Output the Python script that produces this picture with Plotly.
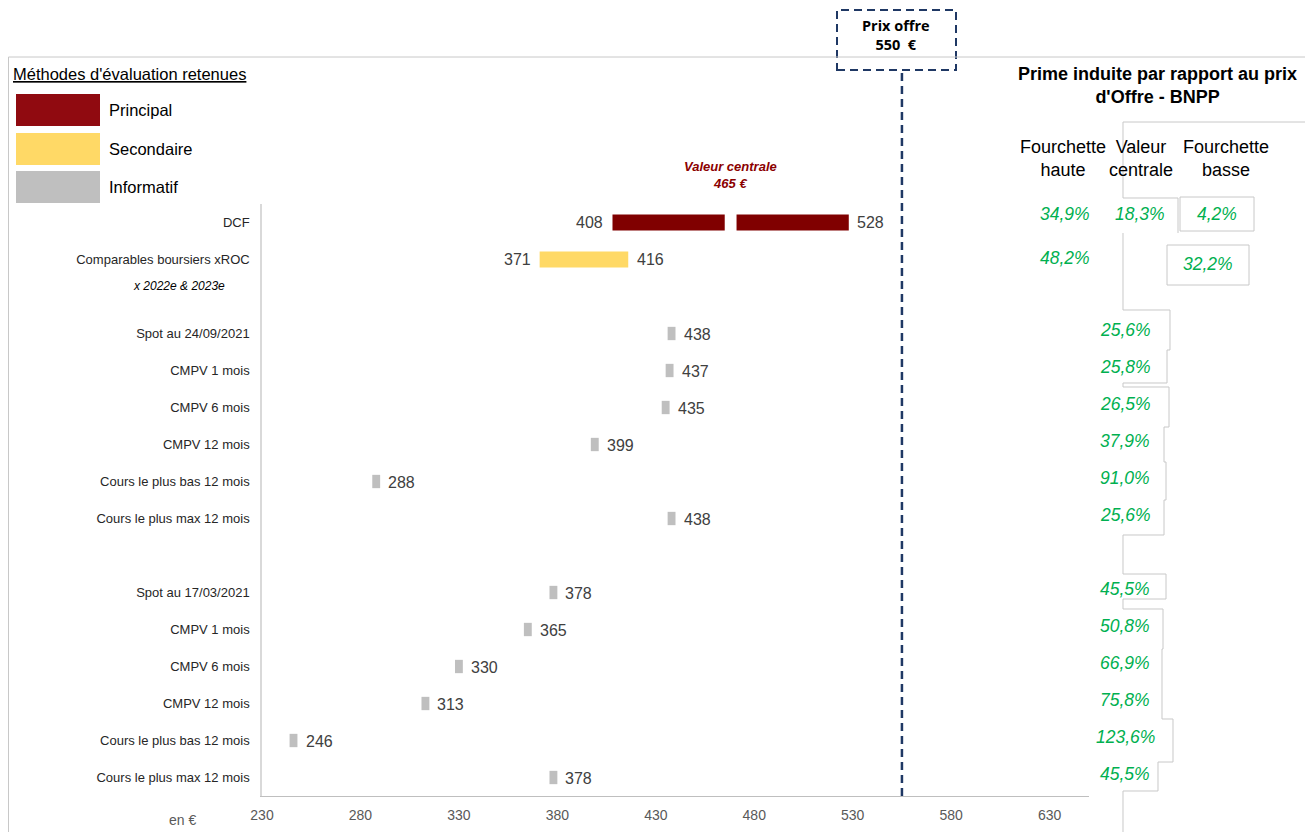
import plotly.graph_objects as go

# valuation methods (values in EUR)
dcf_low, dcf_central, dcf_high = 408, 465, 528
comp_low, comp_high = 371, 416
offer_price = 550
offer_line_at = 555  # where the dashed line sits on the axis in the picture

recent_labels = ["Spot au 24/09/2021", "CMPV 1 mois", "CMPV 6 mois", "CMPV 12 mois",
                 "Cours le plus bas 12 mois", "Cours le plus max 12 mois"]
recent_values = [438, 437, 435, 399, 288, 438]
old_labels = ["Spot au 17/03/2021", "CMPV 1 mois", "CMPV 6 mois", "CMPV 12 mois",
              "Cours le plus bas 12 mois", "Cours le plus max 12 mois"]
old_values = [378, 365, 330, 313, 246, 378]

# implied premium vs offer price (%)
prem_dcf = [34.9, 18.3, 4.2]
prem_comp = [48.2, 32.2]
prem_recent = [25.6, 25.8, 26.5, 37.9, 91.0, 25.6]
prem_old = [45.5, 50.8, 66.9, 75.8, 123.6, 45.5]

x_ticks = [230, 280, 330, 380, 430, 480, 530, 580, 630]

RED = '#800000'
YELLOW = '#FFD966'
GREY = '#BFBFBF'
GREEN = '#00B050'
NAVY = '#1F3864'
FONT = 'Liberation Sans, Arial, sans-serif'

# page body has an 8px margin, so the figure is a bit smaller than the window
OFF = 8
W, H = 1316 - 2 * OFF, 840 - 2 * OFF
L, R, T, B = 262, 1089, 204, 796   # plot area, in window pixels


def fx(p):
    return (p - L) / (R - L)


def fy(p):
    return (B - p) / (B - T)


def pct(v):
    return '{:.1f}%'.format(v).replace('.', ',')


rows_recent = list(range(3, 3 + len(recent_values)))
rows_old = list(range(10, 10 + len(old_values)))
tickvals = [0, 1] + rows_recent + rows_old
ticktext = ['DCF', 'Comparables boursiers xROC'] + recent_labels + old_labels

gap = 6
fig = go.Figure()
fig.add_trace(go.Bar(orientation='h', y=[0], base=[dcf_low], x=[dcf_central - dcf_low],
                     width=0.43, marker=dict(color=RED, line=dict(width=0))))
fig.add_trace(go.Bar(orientation='h', y=[0], base=[dcf_central + gap],
                     x=[dcf_high - dcf_central - gap],
                     width=0.43, marker=dict(color=RED, line=dict(width=0))))
fig.add_trace(go.Bar(orientation='h', y=[1], base=[comp_low], x=[comp_high - comp_low],
                     width=0.43, marker=dict(color=YELLOW, line=dict(width=0))))
info_rows = rows_recent + rows_old
info_vals = recent_values + old_values
fig.add_trace(go.Bar(orientation='h', y=info_rows, base=[v - 2 for v in info_vals],
                     x=[4] * len(info_vals), width=0.36,
                     marker=dict(color=GREY, line=dict(width=0))))

ann = []
num_font = dict(family=FONT, size=16, color='#404040')
ann.append(dict(x=dcf_low, y=0, text=str(dcf_low), xanchor='right', xshift=-7, font=num_font))
ann.append(dict(x=dcf_high, y=0, text=str(dcf_high), xanchor='left', xshift=6, font=num_font))
ann.append(dict(x=comp_low, y=1, text=str(comp_low), xanchor='right', xshift=-7, font=num_font))
ann.append(dict(x=comp_high, y=1, text=str(comp_high), xanchor='left', xshift=7, font=num_font))
for r, v in zip(info_rows, info_vals):
    ann.append(dict(x=v, y=r, text=str(v), xanchor='left', xshift=10, yshift=-1, font=num_font))

ann.append(dict(x=dcf_central + gap / 2, y=fy(175), yref='paper',
                text='<b><i>Valeur centrale<br>%d €</i></b>' % dcf_central,
                font=dict(family=FONT, size=13, color='#8B0000')))
ann.append(dict(x=fx(179), y=1.72, xref='paper', text='<i>x 2022e &amp; 2023e</i>',
                font=dict(family=FONT, size=12, color='#000000')))
ann.append(dict(x=fx(182), y=fy(820), xref='paper', yref='paper', text='en €',
                font=dict(family=FONT, size=14, color='#595959')))

# legend block
ann.append(dict(x=fx(11), y=fy(74), xref='paper', yref='paper', xanchor='left',
                text="<u>Méthodes d'évaluation retenues</u>",
                font=dict(family=FONT, size=16.5, color='#000000')))
legend = [('Principal', '#900A10', 110), ('Secondaire', YELLOW, 149), ('Informatif', GREY, 187)]
shapes = []
for name, col, yc in legend:
    shapes.append(dict(type='rect', xref='paper', yref='paper', x0=fx(16), x1=fx(100),
                       y0=fy(yc - 16), y1=fy(yc + 16), fillcolor=col, line=dict(width=0)))
    ann.append(dict(x=fx(107), y=fy(yc), xref='paper', yref='paper', xanchor='left', text=name,
                    font=dict(family=FONT, size=16.5, color='#000000')))

# offer price box and line
shapes.append(dict(type='rect', xref='paper', yref='paper', x0=fx(837), x1=fx(956),
                   y0=fy(70), y1=fy(10), line=dict(color=NAVY, width=2, dash='8px,5px')))
ann.append(dict(x=fx(896), y=fy(35), xref='paper', yref='paper',
                text='<b>Prix offre<br>%d  €</b>' % offer_price,
                font=dict(family='Open Sans, sans-serif', size=14.5, color='#000000')))
shapes.append(dict(type='line', xref='x', yref='paper', x0=offer_line_at, x1=offer_line_at,
                   y0=0, y1=fy(70), line=dict(color=NAVY, width=2.5, dash='8px,5px')))

# premium table
ann.append(dict(x=fx(1157), y=fy(86), xref='paper', yref='paper',
                text="<b>Prime induite par rapport au prix<br>d'Offre - BNPP</b>",
                font=dict(family=FONT, size=18, color='#000000')))
hdr_font = dict(family=FONT, size=18, color='#000000')
for txt, xc in [('Fourchette<br>haute', 1063), ('Valeur<br>centrale', 1141), ('Fourchette<br>basse', 1226)]:
    ann.append(dict(x=fx(xc), y=fy(159), xref='paper', yref='paper', text=txt, font=hdr_font))

g_font = dict(family=FONT, size=17.5, color=GREEN)
for v, xc in zip(prem_dcf, [1065, 1140, 1217]):
    ann.append(dict(x=fx(xc), y=fy(214), xref='paper', yref='paper',
                    text='<i>%s</i>' % pct(v), font=g_font))
for v, xc, yc in zip(prem_comp, [1065, 1208], [258, 264]):
    ann.append(dict(x=fx(xc), y=fy(yc), xref='paper', yref='paper',
                    text='<i>%s</i>' % pct(v), font=g_font))
for r, v in zip(rows_recent + rows_old, prem_recent + prem_old):
    ann.append(dict(x=fx(1125), y=r, xref='paper', text='<i>%s</i>' % pct(v),
                    yshift=4, font=g_font))

for a in ann:
    a.setdefault('showarrow', False)
    a.setdefault('xanchor', 'center')
    a.setdefault('yanchor', 'middle')

# cell borders copied from the spreadsheet around the table
border = dict(color='#C8C8C8', width=1)
shapes.append(dict(type='rect', xref='paper', yref='paper', x0=fx(1180), x1=fx(1254),
                   y0=fy(231), y1=fy(197), line=border))
shapes.append(dict(type='rect', xref='paper', yref='paper', x0=fx(1167), x1=fx(1249),
                   y0=fy(285), y1=fy(245), line=border))
steps = [(1123, 122), (1123, 198), (1178, 198), (1178, 233)]
steps2 = [(1123, 233), (1123, 310), (1170, 310), (1170, 350), (1167, 350), (1167, 383),
          (1123, 383), (1123, 387), (1169, 387), (1169, 427), (1164, 427), (1164, 462),
          (1166, 462), (1166, 500), (1164, 500), (1164, 535), (1123, 535), (1123, 574),
          (1166, 574), (1166, 599), (1123, 599), (1123, 609), (1163, 609), (1163, 649),
          (1162, 649), (1162, 719), (1173, 719), (1173, 762), (1158, 762), (1158, 791),
          (1123, 791), (1123, 840)]
frame = [[(8.5, 840), (8.5, 57), (1305, 57)], [(1123, 122), (1305, 122)], steps, steps2]
for seg in frame:
    path = 'M ' + ' L '.join('%.5f,%.5f' % (fx(a), fy(b)) for a, b in seg)
    shapes.append(dict(type='path', xref='paper', yref='paper', path=path, line=border))

fig.update_layout(
    width=W, height=H,
    margin=dict(l=L - OFF, r=(W + OFF) - R, t=T - OFF, b=(H + OFF) - B, autoexpand=False),
    paper_bgcolor='white', plot_bgcolor='white',
    barmode='overlay', showlegend=False,
    font=dict(family=FONT),
    annotations=ann, shapes=shapes,
    xaxis=dict(range=[230, 650], tickvals=x_ticks, showgrid=False, zeroline=False,
               showline=True, linecolor='#BFBFBF', linewidth=1, ticks='',
               ticklabelstandoff=6, tickfont=dict(family=FONT, size=14, color='#595959'),
               automargin=False, fixedrange=True),
    yaxis=dict(range=[15.5, -0.5], tickvals=tickvals, ticktext=ticktext, showgrid=False,
               zeroline=False, showline=True, linecolor='#D9D9D9', linewidth=1.5, ticks='',
               ticklabelstandoff=8, tickfont=dict(family=FONT, size=13, color='#262626'),
               automargin=False, fixedrange=True),
)

fig.write_html("out.html")
